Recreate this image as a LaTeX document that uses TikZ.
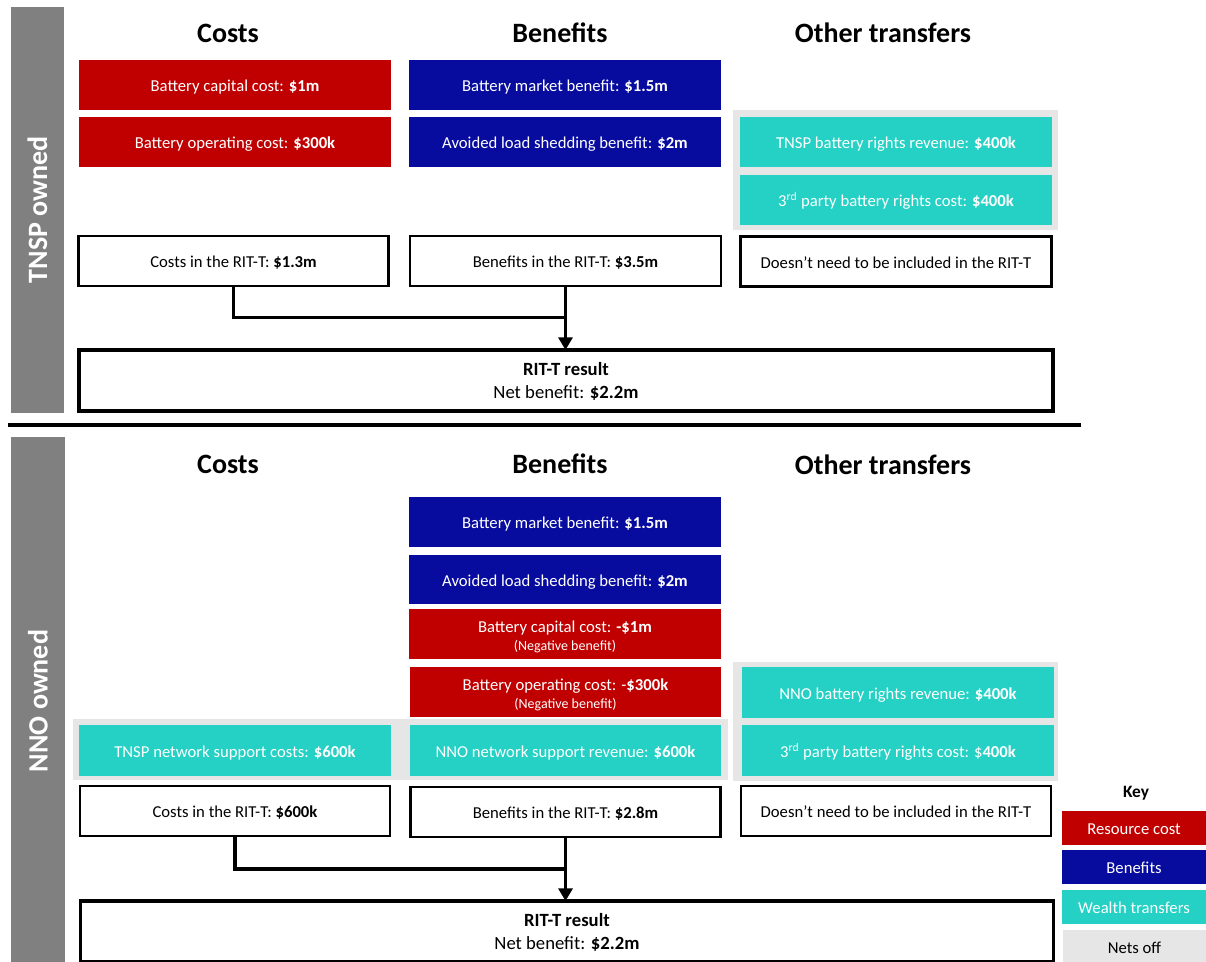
\documentclass[tikz,border=0pt]{standalone}
\usepackage{fontspec}
\setmainfont{Carlito}
\usetikzlibrary{arrows.meta}
\definecolor{rescost}{RGB}{192,0,0}
\definecolor{benef}{RGB}{8,12,158}
\definecolor{wealth}{RGB}{36,209,196}
\definecolor{netgray}{RGB}{230,230,230}
\definecolor{bargray}{RGB}{128,128,128}
\newcommand\boxfont{\fontsize{12.5}{15}\selectfont}
\newcommand\notefont{\fontsize{10.5}{13.3}\selectfont}
\begin{document}
\begin{tikzpicture}[x=0.75pt,y=-0.75pt,
  wh/.style 2 args={minimum width={#1*0.75pt}, minimum height={#2*0.75pt}},
  base/.style={inner sep=0pt, outer sep=0pt, align=center, font=\boxfont,
    text height=10pt, text depth=0pt},
  twoline/.style={font=\fontsize{12.5}{13.3}\selectfont,
    text height=24pt, text depth=0pt},
  cost/.style={base, fill=rescost, text=white},
  bene/.style={base, fill=benef, text=white},
  xfer/.style={base, fill=wealth, text=white},
  netoff/.style={base, fill=netgray},
  sumbox/.style={base, draw=black, line width=1.8pt, fill=white},
  result/.style={base, draw=black, line width=2.5pt, fill=white,
    font=\fontsize{14}{17}\selectfont, text height=26.7pt, text depth=0pt},
  head/.style={inner sep=0pt, font=\bfseries\fontsize{21}{25}\selectfont},
  owner/.style={inner sep=0pt, fill=bargray, text=white, rotate=90,
    font=\bfseries\fontsize{21}{25}\selectfont},
  conn/.style={line width=2.5pt},
  flow/.style={conn, -{Triangle[width=10.5pt,length=9.5pt]}}]
\useasboundingbox (0,0) rectangle (1206,961);
\clip (0,0) rectangle (1206,961);

% ---------- side bars and separator ----------
\node[owner, wh={405.5}{53}] (tnspbar) at (37.5,209.75) {TNSP owned};
\node[owner, wh={528}{54}] (nnobar) at (38,701) {NNO owned};
\draw[line width=2.5pt] (8,425) -- (1081,425);

% ---------- TNSP owned ----------
\node[head] (thc) at (228,33) {Costs};
\node[head] (thb) at (560,33) {Benefits};
\node[head] (tho) at (883,33) {Other transfers};

\node[cost, wh={312}{50}] (tcap) at (235,85) {Battery capital cost: \textbf{\$1m}};
\node[cost, wh={312}{50}] (topc) at (235,142) {Battery operating cost: \textbf{\$300k}};
\node[bene, wh={312}{50}] (tmkt) at (565,85) {Battery market benefit: \textbf{\$1.5m}};
\node[bene, wh={312}{50}] (tshed) at (565,142) {Avoided load shedding benefit: \textbf{\$2m}};
\node[netoff, wh={325}{120}] (tnet) at (895.5,170) {};
\node[xfer, wh={312}{50}] (trev) at (896,142) {TNSP battery rights revenue: \textbf{\$400k}};
\node[xfer, wh={312}{50}] (trights) at (896,200) {3\textsuperscript{rd} party battery rights cost: \textbf{\$400k}};

\node[sumbox, wh={310}{50}] (tcs) at (233.5,261) {Costs in the RIT-T: \textbf{\$1.3m}};
\node[sumbox, wh={311}{50}] (tbs) at (565.5,261) {Benefits in the RIT-T: \textbf{\$3.5m}};
\node[sumbox, wh={311}{50}] (tds) at (896,261.5) {Doesn’t need to be included in the RIT-T};

\node[result, wh={974}{61}] (tres) at (566,380.5) {\textbf{RIT-T result}\\Net benefit: \textbf{\$2.2m}};

\coordinate (tjoin) at (565.5,317.5);
\draw[conn] (tcs.south) |- (tjoin);
\draw[flow] (tbs.south) -- (tres.north -| tbs.south);

% ---------- NNO owned ----------
\node[head] (bhc) at (228,464) {Costs};
\node[head] (bhb) at (560,464) {Benefits};
\node[head] (bho) at (883,465) {Other transfers};

\node[bene, wh={312}{50}] (bmkt) at (565,522) {Battery market benefit: \textbf{\$1.5m}};
\node[bene, wh={312}{49}] (bshed) at (565,579.5) {Avoided load shedding benefit: \textbf{\$2m}};
\node[cost, twoline, wh={312}{50}] (bcap) at (565,634)
  {Battery capital cost: \textbf{-\$1m}\\{\notefont(Negative benefit)}};
\node[cost, twoline, wh={311}{50}] (bopc) at (565.5,692)
  {Battery operating cost: -\textbf{\$300k}\\{\notefont(Negative benefit)}};

\node[netoff, wh={655}{61}] (bnetl) at (400.5,749.5) {};
\node[netoff, wh={325}{119}] (bnetr) at (895.5,721.5) {};
\node[xfer, wh={312}{51}] (bsupc) at (235,750.5) {TNSP network support costs: \textbf{\$600k}};
\node[xfer, wh={311}{51}] (bsupr) at (565.5,750.5) {NNO network support revenue: \textbf{\$600k}};
\node[xfer, wh={312}{51}] (brev) at (898,692.5) {NNO battery rights revenue: \textbf{\$400k}};
\node[xfer, wh={312}{51}] (brights) at (898,750.5) {3\textsuperscript{rd} party battery rights cost: \$\textbf{400k}};

\node[sumbox, wh={310}{50}] (bcs) at (235,811) {Costs in the RIT-T: \textbf{\$600k}};
\node[sumbox, wh={310}{50}] (bbs) at (565.5,812) {Benefits in the RIT-T: \textbf{\$2.8m}};
\node[sumbox, wh={310}{50}] (bds) at (896,811) {Doesn’t need to be included in the RIT-T};

\node[result, wh={973}{61}] (bres) at (567,931.5) {\textbf{RIT-T result}\\Net benefit: \textbf{\$2.2m}};

\coordinate (bjoin) at (565.5,869);
\draw[conn] (bcs.south) |- (bjoin);
\draw[flow] (bbs.south) -- (bres.north -| bbs.south);

% ---------- key ----------
\node[inner sep=0pt, font=\bfseries\fontsize{13}{15}\selectfont] (keyt) at (1136,793) {Key};
\node[cost, wh={144}{34}] (k1) at (1134,828) {Resource cost};
\node[bene, wh={144}{34}] (k2) at (1134,867) {Benefits};
\node[xfer, wh={144}{34}] (k3) at (1134,907) {Wealth transfers};
\node[netoff, wh={143}{34}] (k4) at (1134.5,947) {Nets off};
\end{tikzpicture}
\end{document}
